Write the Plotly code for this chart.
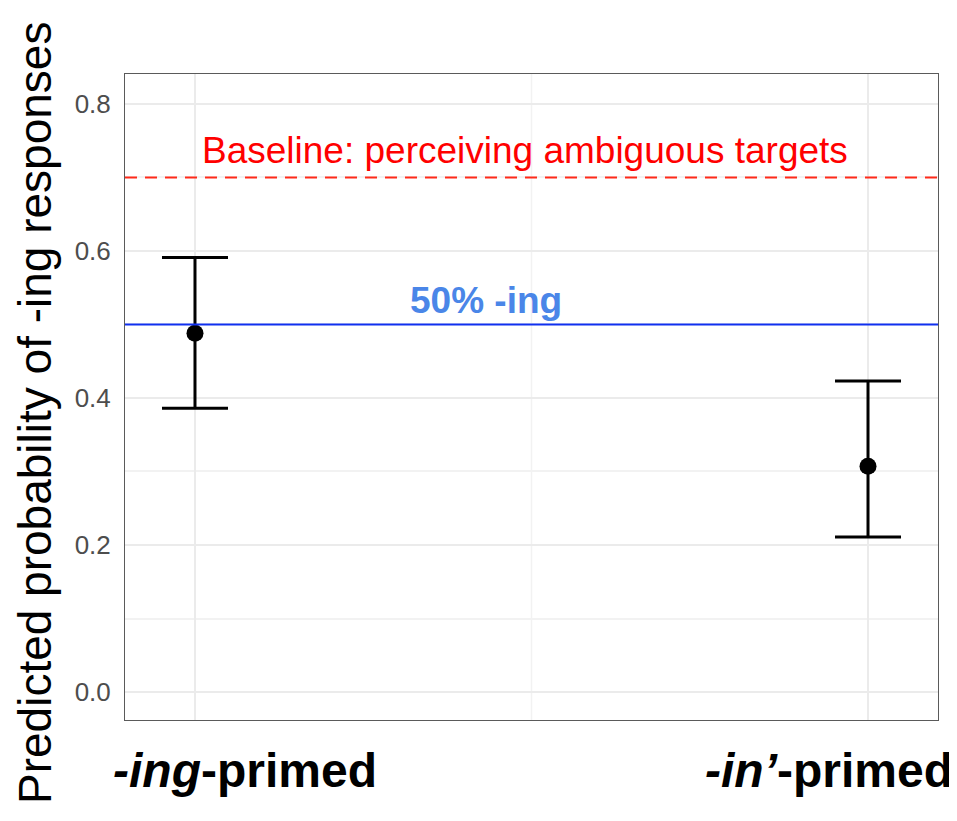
import plotly.graph_objects as go

categories = ["-ing-primed", "-in'-primed"]
cat_labels = ["<b><i>-ing</i>-primed</b>", "<b><i>-in\u2019</i>-primed</b>"]
estimates = [0.488, 0.307]
ci_low = [0.386, 0.211]
ci_high = [0.591, 0.423]
baseline = 0.70
chance = 0.50
y_ticks = [0.0, 0.2, 0.4, 0.6, 0.8]
y_tick_text = ["0.0", "0.2", "0.4", "0.6", "0.8"]

FONT = "Liberation Sans, Arial, sans-serif"
xpos = list(range(len(categories)))

fig = go.Figure()

fig.add_trace(go.Scatter(
    x=xpos, y=estimates, mode="markers",
    marker=dict(color="black", size=17),
    error_y=dict(type="data", symmetric=False,
                 array=[h - e for h, e in zip(ci_high, estimates)],
                 arrayminus=[e - l for l, e in zip(ci_low, estimates)],
                 color="black", thickness=3, width=33),
    showlegend=False, hoverinfo="skip",
))

# reference lines
fig.add_hline(y=baseline, line=dict(color="#FF2A1A", width=2, dash="12px,8px"))
fig.add_hline(y=chance, line=dict(color="#1030F0", width=2))

# minor vertical gridline between categories
fig.add_shape(type="line", xref="x", yref="paper", x0=0.5, x1=0.5, y0=0, y1=1,
              line=dict(color="#F2F2F2", width=1.5), layer="below")

fig.add_annotation(x=0.49, y=baseline, xref="x", yref="y", yshift=27,
                   text="Baseline: perceiving ambiguous targets", showarrow=False,
                   font=dict(family=FONT, size=37, color="#FF0000"),
                   xanchor="center", yanchor="middle")
fig.add_annotation(x=0.432, y=chance, xref="x", yref="y", yshift=24,
                   text="<b>50% -ing</b>", showarrow=False,
                   font=dict(family=FONT, size=37, color="#4A86E8"),
                   xanchor="center", yanchor="middle")

shifts = [50, -39]
for xp, lab, s in zip(xpos, cat_labels, shifts):
    fig.add_annotation(x=xp, y=0, xref="x", yref="paper", xshift=s, yshift=-50,
                       text=lab, showarrow=False,
                       font=dict(family=FONT, size=48, color="black"),
                       xanchor="center", yanchor="middle")

fig.add_annotation(x=0, y=0.5, xref="paper", yref="paper", xshift=-90, yshift=-16,
                   text="Predicted probability of -ing responses", textangle=-90,
                   showarrow=False, font=dict(family=FONT, size=46, color="black"),
                   xanchor="center", yanchor="middle", borderpad=0)

fig.update_layout(
    width=949, height=813,
    margin=dict(l=117, r=19, t=66, b=101),
    plot_bgcolor="white", paper_bgcolor="white",
    font=dict(family=FONT),
    xaxis=dict(range=[-0.104, 1.104], tickvals=xpos, showticklabels=False,
               showgrid=True, gridcolor="#EBEBEB", gridwidth=2, zeroline=False,
               showline=True, linecolor="#5A5A5A", linewidth=1, mirror=True,
               ticks=""),
    yaxis=dict(range=[-0.0381, 0.8408], tickvals=y_ticks, ticktext=y_tick_text,
               showgrid=True, gridcolor="#EBEBEB", gridwidth=2, zeroline=False,
               showline=True, linecolor="#5A5A5A", linewidth=1, mirror=True,
               ticks="", ticklabelstandoff=8,
               tickfont=dict(family=FONT, size=26, color="#4D4D4D"),
               minor=dict(tickvals=[0.1, 0.3, 0.5, 0.7], showgrid=True,
                          gridcolor="#F2F2F2", gridwidth=1.5)),
)

fig.write_html("out.html")
